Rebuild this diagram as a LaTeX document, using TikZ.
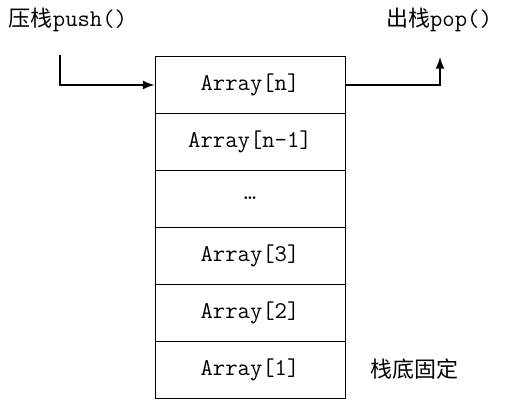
\documentclass[tikz,border=0pt]{standalone}
\usepackage{fontspec}
\newfontfamily\cjk{Noto Sans CJK SC}
\usepackage{tikz}

\begin{document}
\begin{tikzpicture}[x=0.5pt, y=-0.5pt,
    every node/.style={font=\ttfamily\fontsize{12}{14}\selectfont},
    cell/.style={draw, line width=0.5pt, minimum width=95pt, minimum height=28.5pt, inner sep=0pt},
    flow/.style={line width=1pt, -latex}]
    \useasboundingbox (0,0) rectangle (509,412);

    \node[cell] (an) at (250,85) {Array[n]};
    \node[cell] (am) at (250,142) {Array[n-1]};
    \node[cell] (dots) at (250,199) {\raisebox{1pt}{\ldots}};
    \node[cell] (a3) at (250,256) {Array[3]};
    \node[cell] (a2) at (250,313) {Array[2]};
    \node[cell] (a1) at (250,370) {Array[1]};

    \node (push) at (68,20) {{\cjk\fontsize{11}{13}\selectfont 压栈}push()};
    \node (pop) at (439,20) {{\cjk\fontsize{11}{13}\selectfont 出栈}pop()};
    \node (bottom) at (414,369) {\cjk\fontsize{11}{13}\selectfont 栈底固定};

    \coordinate (pushstart) at (60,55);
    \coordinate (popend) at (440,57);

    \draw[flow] (pushstart) |- (an.west);
    \draw[flow] (an.east) -| (popend);
\end{tikzpicture}
\end{document}
